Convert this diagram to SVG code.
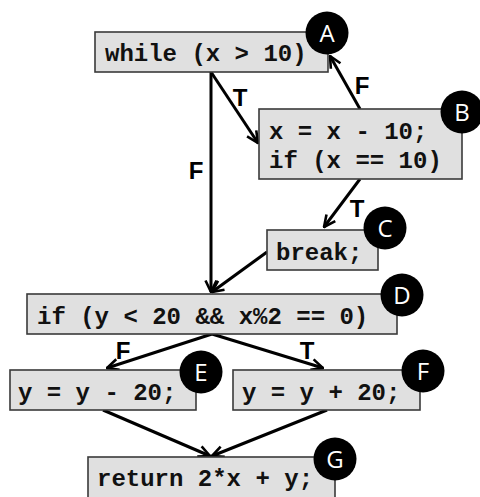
<svg xmlns="http://www.w3.org/2000/svg" width="480" height="497" viewBox="0 0 480 497">
  <style>
    .box { fill: #e0e0e0; stroke: #3a3a3a; stroke-width: 1.6; }
    .code { font-family: "Liberation Mono", "Courier New", monospace; font-weight: bold; font-size: 24px; fill: #111; }
    .badge { fill: #000; }
    .badge-txt { font-family: "Open Sans", "Noto Sans", sans-serif; font-size: 24px; fill: #fff; text-anchor: middle; }
    .edge { stroke: #000; stroke-width: 3; fill: none; marker-end: url(#arrow); }
    .lbl { font-family: "Liberation Sans", "Open Sans", sans-serif; font-weight: bold; font-size: 24px; fill: #000; text-anchor: middle; }
  </style>
  <defs>
    <marker id="arrow" viewBox="0 0 14 14" refX="13" refY="7" markerWidth="14" markerHeight="14" markerUnits="userSpaceOnUse" orient="auto">
      <path d="M1.5,1.5 L13,7 L1.5,12.5" fill="none" stroke="#000" stroke-width="2.6"/>
    </marker>
  </defs>

  <g id="connectors">
    <line class="edge" x1="211" y1="72" x2="211" y2="292"/>
    <line class="edge" x1="211" y1="72" x2="258" y2="143"/>
    <line class="edge" x1="360" y1="109" x2="330" y2="56"/>
    <line class="edge" x1="360" y1="179" x2="324" y2="227"/>
    <line class="edge" x1="267" y1="252" x2="212" y2="292"/>
    <line class="edge" x1="212" y1="334" x2="107" y2="368"/>
    <line class="edge" x1="212" y1="334" x2="323" y2="368"/>
    <line class="edge" x1="103" y1="410" x2="210" y2="456"/>
    <line class="edge" x1="327" y1="410" x2="212" y2="456"/>
    <text class="lbl" x="240" y="106">T</text>
    <text class="lbl" x="196" y="179">F</text>
    <text class="lbl" x="362" y="94">F</text>
    <text class="lbl" x="357" y="217">T</text>
    <text class="lbl" x="123" y="359">F</text>
    <text class="lbl" x="307" y="359">T</text>
  </g>

  <g id="node-A">
    <rect class="box" x="95" y="32" width="233" height="40"/>
    <text class="code" x="105" y="61" xml:space="preserve">while (x &gt; 10)</text>
    <circle class="badge" cx="327" cy="33" r="21.5"/>
    <text class="badge-txt" x="327" y="42">A</text>
  </g>

  <g id="node-B">
    <rect class="box" x="259" y="109" width="203" height="70"/>
    <text class="code" x="269" y="139" xml:space="preserve">x = x - 10;</text>
    <text class="code" x="269" y="168" xml:space="preserve">if (x == 10)</text>
    <circle class="badge" cx="462" cy="112" r="21.5"/>
    <text class="badge-txt" x="462" y="121">B</text>
  </g>

  <g id="node-C">
    <rect class="box" x="267" y="230" width="111" height="40"/>
    <text class="code" x="276" y="260">break;</text>
    <circle class="badge" cx="385" cy="228" r="21.5"/>
    <text class="badge-txt" x="385" y="237">C</text>
  </g>

  <g id="node-D">
    <rect class="box" x="27" y="294" width="370" height="40"/>
    <text class="code" x="37" y="324" xml:space="preserve">if (y &lt; 20 &amp;&amp; x%2 == 0)</text>
    <circle class="badge" cx="402" cy="295" r="21.5"/>
    <text class="badge-txt" x="402" y="304">D</text>
  </g>

  <g id="node-E">
    <rect class="box" x="10" y="370" width="186" height="40"/>
    <text class="code" x="18" y="400" xml:space="preserve">y = y - 20;</text>
    <circle class="badge" cx="201" cy="372" r="21.5"/>
    <text class="badge-txt" x="201" y="381">E</text>
  </g>

  <g id="node-F">
    <rect class="box" x="233" y="370" width="187" height="40"/>
    <text class="code" x="242" y="400" xml:space="preserve">y = y + 20;</text>
    <circle class="badge" cx="423" cy="371" r="21.5"/>
    <text class="badge-txt" x="423" y="380">F</text>
  </g>

  <g id="node-G">
    <rect class="box" x="88" y="457" width="247" height="44"/>
    <text class="code" x="97" y="486" xml:space="preserve">return 2*x + y;</text>
    <circle class="badge" cx="335" cy="459" r="21.5"/>
    <text class="badge-txt" x="335" y="468">G</text>
  </g>
</svg>
